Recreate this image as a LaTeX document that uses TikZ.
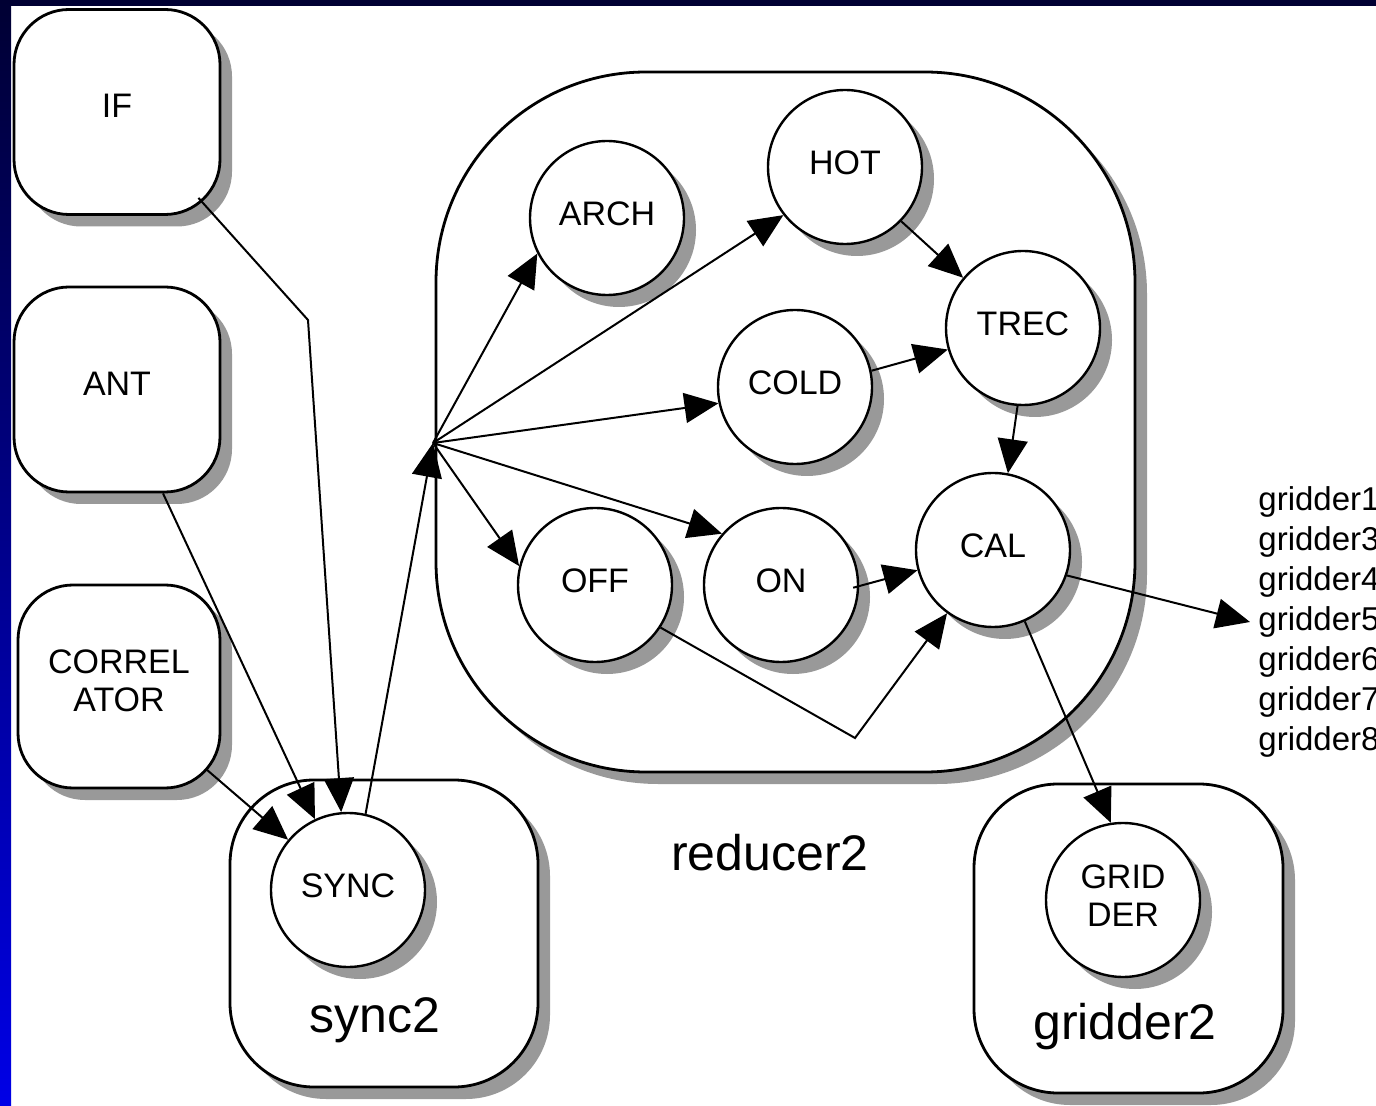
\documentclass[tikz,border=0pt]{standalone}
\usepackage{fontspec}
\setmainfont{Liberation Sans}
\usetikzlibrary{arrows.meta,shadows}
\definecolor{navy}{RGB}{0,0,51}
\definecolor{stripblue}{RGB}{0,0,230}
\definecolor{shadowgray}{RGB}{153,153,153}

\begin{document}
\begin{tikzpicture}[x=0.5pt,y=-0.5pt,
    font=\fontsize{17}{19}\selectfont,
    unit/.style={draw,line width=1.4pt,fill=white,rounded corners=#1,inner sep=0pt,text depth=6pt,
      drop shadow={shadow xshift=6pt,shadow yshift=-6pt,fill=shadowgray,opacity=1}},
    task/.style={circle,draw,line width=1.2pt,fill=white,minimum size=77pt,inner sep=0pt,align=center,
      text depth=4pt,
      drop shadow={shadow xshift=6pt,shadow yshift=-6pt,fill=shadowgray,opacity=1}},
    conn/.style={line width=1pt,-{Triangle[length=17pt,width=15pt]}},
    biglabel/.style={font=\fontsize{25}{30}\selectfont}]
  \useasboundingbox (0,0) rectangle (1376,1106);
  % slide background
  \fill[white] (0,0) rectangle (1376,1106);
  \fill[navy] (0,0) rectangle (1376,6);
  \shade[top color=navy,bottom color=stripblue] (0,0) rectangle (11,1106);

  % sources
  \node[unit=27.5pt,minimum width=103pt,minimum height=102.5pt] (IF) at (117,112) {IF};
  \node[unit=27.5pt,minimum width=103pt,minimum height=102.5pt] (ANT) at (117,389.5) {ANT};
  \node[unit=27.5pt,minimum width=101pt,minimum height=101.5pt,align=center] (CORR) at (119,686.5) {CORREL\\ATOR};

  % groups
  \node[unit=42pt,minimum width=154pt,minimum height=153.5pt] (sync2) at (384,933.5) {};
  \node[unit=105pt,minimum width=349.5pt,minimum height=350pt] (reducer2) at (785.5,422) {};
  \node[unit=42pt,minimum width=154.5pt,minimum height=154.5pt] (gridder2) at (1128.5,938.5) {};
  \node[biglabel] (syncl) at (375,1020) {sync2};
  \node[biglabel] (redl) at (770,853) {reducer2};
  \node[biglabel] (gridl) at (1125,1027) {gridder2};

  % tasks
  \node[task] (SYNC) at (348,890) {SYNC};
  \node[task] (ARCH) at (607,218) {ARCH};
  \node[task] (HOT) at (845,167) {HOT};
  \node[task] (TREC) at (1023,328) {TREC};
  \node[task] (COLD) at (795,387) {COLD};
  \node[task] (CAL) at (993,550) {CAL};
  \node[task] (OFF) at (595,585) {OFF};
  \node[task] (ON) at (781,585) {ON};
  \node[task] (GRIDDER) at (1123,900) {GRID\\DER};
  \node[anchor=west,align=left,inner sep=4pt,font=\fontsize{16.5}{20}\selectfont] (list) at (1250,622)
    {gridder1\\gridder3\\gridder4\\gridder5\\gridder6\\gridder7\\gridder8};

  \coordinate (hub) at (433,443);
  \coordinate (ifbend) at (308,320);
  \coordinate (offbend) at (855,738);

  % connections
  \draw[conn] ([shift={(-23,-18)}]IF.south east) -- (ifbend) -- (SYNC.95);
  \draw[conn] ([xshift=23pt]ANT.south) -- (SYNC.115);
  \draw[conn] ([shift={(-15,-20)}]CORR.south east) -- (SYNC.140);
  \draw[conn] (SYNC.77) -- (hub);
  \foreach \t/\a in {ARCH/207,HOT/218,COLD/192,ON/139,OFF/166}
    \draw[conn] (hub) -- (\t.\a);
  \draw[conn] (HOT.-44) -- (TREC.140);
  \draw[conn] (COLD.12) -- (TREC.196);
  \draw[conn] (TREC.266) -- (CAL.79);
  \draw[conn] ([xshift=-3pt]ON.-2) -- (CAL.195);
  \draw[conn] (OFF.-33) -- (offbend) -- (CAL.234);
  \draw[conn] (CAL.-19) -- (list.west);
  \draw[conn] (CAL.-66) -- (GRIDDER.99);
\end{tikzpicture}
\end{document}
